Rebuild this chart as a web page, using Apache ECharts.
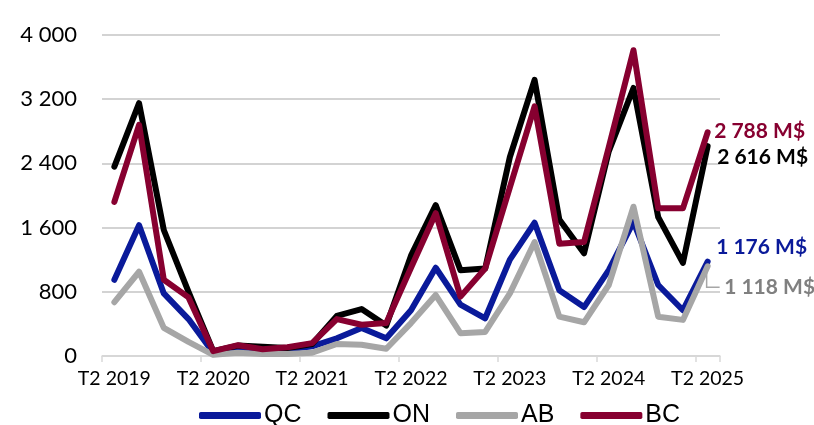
<!DOCTYPE html>
<html>
<head>
<meta charset="utf-8">
<script src="https://cdn.jsdelivr.net/npm/echarts@6/dist/echarts.min.js"></script>
<style>html,body{margin:0;padding:0;background:#fff}#c{width:814px;height:425px}</style>
</head>
<body>
<div id="c"></div>
<script>
const categories = ["T2 2019","T3 2019","T4 2019","T1 2020","T2 2020","T3 2020","T4 2020","T1 2021","T2 2021","T3 2021","T4 2021","T1 2022","T2 2022","T3 2022","T4 2022","T1 2023","T2 2023","T3 2023","T4 2023","T1 2024","T2 2024","T3 2024","T4 2024","T1 2025","T2 2025"];
const QC = [950, 1630, 780, 460, 40, 110, 70, 80, 120, 220, 350, 220, 570, 1100, 640, 470, 1200, 1660, 820, 610, 1070, 1670, 885, 570, 1176];
const ON = [2360, 3150, 1570, 800, 60, 130, 115, 100, 150, 500, 585, 380, 1250, 1880, 1070, 1090, 2480, 3440, 1700, 1280, 2550, 3340, 1730, 1160, 2616];
const AB = [670, 1050, 350, 175, 15, 40, 25, 25, 40, 150, 140, 90, 410, 760, 285, 300, 780, 1420, 490, 420, 885, 1860, 490, 450, 1118];
const BC = [1920, 2880, 950, 730, 60, 135, 85, 110, 160, 460, 390, 410, 1100, 1780, 740, 1090, 2100, 3110, 1400, 1420, 2600, 3810, 1840, 1840, 2788];
const yTicks = [0, 800, 1600, 2400, 3200, 4000];

const fmt = v => String(v).replace(/\B(?=(\d{3})+(?!\d))/g, ' ');
const chart = echarts.init(document.getElementById('c'));
const font = 'Lato, "Open Sans", sans-serif';

function mk(name, data, color, labelColor, dx, dy) {
  const d = data.map((v, i) => {
    if (i !== data.length - 1) return v;
    return {
      value: v,
      symbol: 'circle', symbolSize: 1,
      label: {
        show: true, position: 'right', distance: 0,
        formatter: fmt(v) + ' M$', color: labelColor,
        fontFamily: font, fontWeight: 'bold', fontSize: 21
      }
    };
  });
  return {
    name, type: 'line', data: d, symbol: 'none', showSymbol: true, smooth: false,
    lineStyle: { color, width: 6, cap: 'round', join: 'round' },
    itemStyle: { color },
    labelLayout: { dx: dx, dy: dy },
    emphasis: { disabled: true },
    z: 2
  };
}

const last = AB.length - 1;
chart.setOption({
  animation: false,
  grid: { left: 102, right: 94, top: 35, bottom: 69, containLabel: false },
  legend: {
    top: 398, left: 194,
    itemWidth: 62, itemHeight: 7, itemGap: 26,
    icon: 'roundRect',
    textStyle: { fontFamily: '"Liberation Sans", Arial, sans-serif', fontSize: 25, color: '#000', padding: [0, 0, 0, -2] },
    data: ['QC', 'ON', 'AB', 'BC']
  },
  xAxis: {
    type: 'category', data: categories, boundaryGap: true,
    axisLine: { lineStyle: { color: '#d9d9d9', width: 1.5 } },
    axisTick: { show: true, interval: 3, length: 6, lineStyle: { color: '#d9d9d9', width: 1.5 } },
    axisLabel: { interval: 3, color: '#000', fontFamily: font, fontSize: 19.5, margin: 13 },
    splitLine: { show: false }
  },
  yAxis: {
    type: 'value', min: 0, max: 4000, interval: 800,
    axisLine: { show: false }, axisTick: { show: false },
    axisLabel: { color: '#000', fontFamily: font, fontSize: 22, margin: 25, formatter: v => fmt(v) },
    splitLine: { lineStyle: { color: '#c4c4c4', width: 1.5 } }
  },
  series: [
    mk('QC', QC, '#0a1a9a', '#0a1a9a', 8, -14),
    mk('ON', ON, '#000000', '#000000', 9, 11),
    mk('AB', AB, '#a6a6a6', '#808080', 16, 21),
    mk('BC', BC, '#870030', '#870030', 6, -1),
    {
      name: 'leader', type: 'custom', silent: true, z: 1,
      data: [[last, AB[last]]],
      renderItem: function (params, api) {
        const p = api.coord([api.value(0), api.value(1)]);
        return {
          type: 'polyline',
          shape: { points: [[p[0] - 1, p[1] + 6], [p[0] - 1, p[1] + 21], [p[0] + 12, p[1] + 21]] },
          style: { stroke: '#a6a6a6', lineWidth: 1.5, fill: null }
        };
      }
    }
  ]
});
</script>
</body>
</html>
